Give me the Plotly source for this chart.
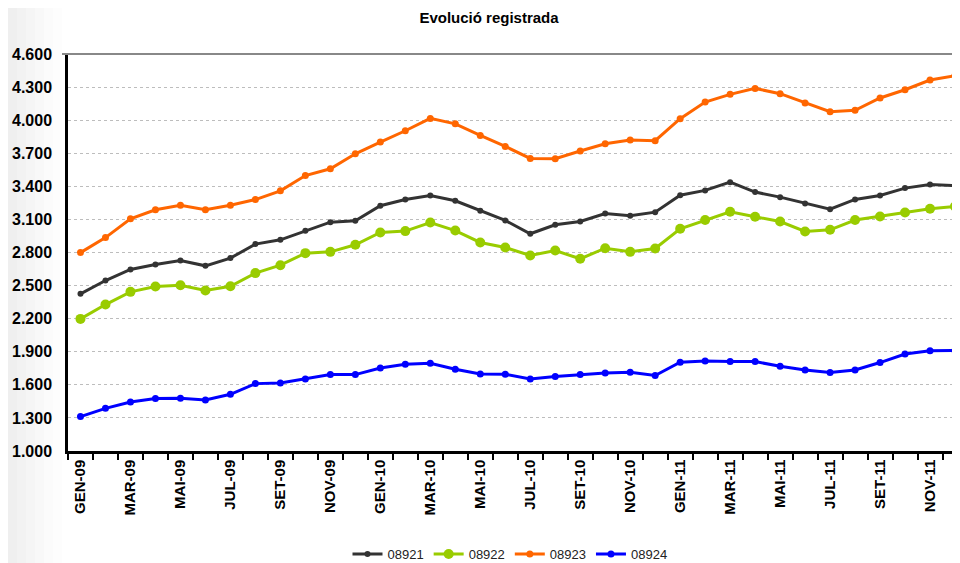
import plotly.graph_objects as go

months = ["GEN", "FEB", "MAR", "ABR", "MAI", "JUN", "JUL", "AGO", "SET", "OCT", "NOV", "DES"]
categories = [f"{m}-{y}" for y in ["09", "10", "11"] for m in months]
tick_labels = [c if i % 2 == 0 else "" for i, c in enumerate(categories)]

s08921 = [2425, 2546, 2646, 2691, 2728, 2679, 2749, 2876, 2915, 2997, 3075, 3087,
          3224, 3281, 3317, 3269, 3178, 3091, 2970, 3051, 3081, 3154, 3133, 3166,
          3320, 3363, 3438, 3348, 3302, 3245, 3193, 3281, 3317, 3384, 3417, 3405]
s08922 = [2198, 2328, 2443, 2491, 2503, 2455, 2494, 2613, 2685, 2794, 2806, 2870,
          2982, 2994, 3072, 2999, 2891, 2845, 2773, 2818, 2743, 2839, 2806, 2836,
          3015, 3094, 3169, 3124, 3081, 2991, 3006, 3094, 3127, 3163, 3196, 3218]
s08923 = [2799, 2935, 3105, 3187, 3229, 3187, 3229, 3280, 3359, 3498, 3559, 3695,
          3801, 3904, 4016, 3967, 3862, 3762, 3653, 3650, 3720, 3786, 3820, 3814,
          4013, 4164, 4234, 4288, 4240, 4155, 4077, 4089, 4201, 4276, 4364, 4403]
s08924 = [1312, 1387, 1445, 1475, 1478, 1463, 1514, 1611, 1617, 1653, 1693, 1693,
          1753, 1787, 1796, 1741, 1699, 1696, 1653, 1675, 1693, 1708, 1714, 1684,
          1805, 1817, 1811, 1811, 1768, 1735, 1711, 1735, 1802, 1880, 1908, 1911]

series = [
    ("08921", s08921, "#333333", 6),
    ("08922", s08922, "#99CC00", 10),
    ("08923", s08923, "#FF6600", 7),
    ("08924", s08924, "#0000FF", 7),
]

y_ticks = list(range(1000, 4601, 300))
y_text = ["<b>" + f"{v:,}".replace(",", ".") + "</b>" for v in y_ticks]

FONT = "Arial, Liberation Sans, sans-serif"

fig = go.Figure()
for name, vals, color, msize in series:
    fig.add_trace(go.Scatter(
        x=categories, y=vals, name=name, mode="lines+markers",
        line=dict(color=color, width=3),
        marker=dict(color=color, size=msize),
    ))

# page body has an 8px margin: figure sized to fit the 960x563 window
FW, FH = 952, 555
L, T, B = 60, 46, 112
W = FW - L
PH = FH - T - B

# light gray gradient on the left page edge
shades = ["#efefef", "#f2f2f2", "#f5f5f5", "#f8f8f8", "#fbfbfb", "#fdfdfd"]
for k, col in enumerate(shades):
    x0 = (k * 9 - L) / W
    x1 = ((k + 1) * 9 - L) / W
    fig.add_shape(type="rect", xref="paper", yref="paper", x0=x0, x1=x1, y0=-0.3, y1=1.2,
                  fillcolor=col, line=dict(width=0), layer="below")

# top border of plot area
fig.add_shape(type="line", xref="paper", yref="paper", x0=-6 / W, x1=1, y0=1, y1=1,
              line=dict(color="#888888", width=2))

fig.update_layout(
    width=FW, height=FH,
    margin=dict(l=L, r=0, t=T, b=B, autoexpand=False),
    paper_bgcolor="white", plot_bgcolor="white",
    font=dict(family=FONT, color="#000000"),
    title=dict(text="<b>Evolució registrada</b>", x=481 / FW, xanchor="center",
               y=1 - 10 / FH, yanchor="middle", font=dict(size=15, color="#000000")),
    showlegend=True,
    legend=dict(orientation="h", x=(502 - L) / W, xanchor="center", y=-(88 / PH), yanchor="top",
                font=dict(size=13, color="#222222"), tracegroupgap=0),
    xaxis=dict(
        type="category", categoryorder="array", categoryarray=categories,
        range=[-0.5, 35.2], automargin=False,
        tickmode="array", tickvals=categories,
        ticktext=[f"<b>{t}</b>" if t else "" for t in tick_labels],
        tickson="boundaries", ticks="outside", ticklen=6, tickwidth=2, tickcolor="#000000",
        tickangle=-90, tickfont=dict(size=15, color="#000000", family=FONT),
        showline=True, linecolor="#000000", linewidth=2.5,
        showgrid=False, zeroline=False,
    ),
    yaxis=dict(
        range=[1000, 4600], automargin=False,
        tickmode="array", tickvals=y_ticks, ticktext=y_text,
        tickfont=dict(size=16, color="#000000", family=FONT),
        showline=True, linecolor="#000000", linewidth=2.5,
        showgrid=True, gridcolor="#bdbdbd", griddash="dot", gridwidth=1,
        zeroline=False, ticks="", ticklabelstandoff=10,
    ),
)

fig.write_html("out.html")
